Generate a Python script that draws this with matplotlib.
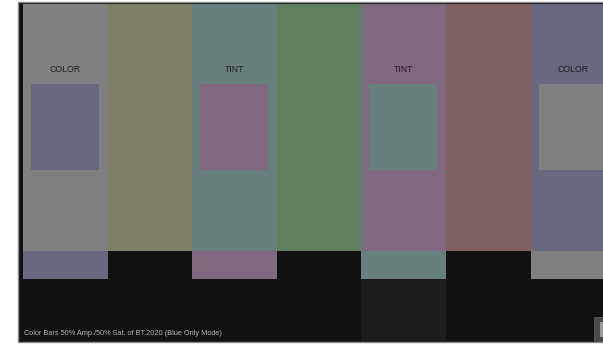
import matplotlib
matplotlib.use("Agg")
import matplotlib.pyplot as plt
from matplotlib.patches import Rectangle

# ---- data ----
bar_colors = ["#808080", "#7f7f69", "#697f7e", "#607f60", "#7f697f", "#7f6161", "#68687f"]
mid_colors = ["#68687f", "#111111", "#7f697f", "#111111", "#697f7e", "#111111", "#808080"]
low_colors = ["#111111", "#111111", "#111111", "#111111", "#1c1c1c", "#111111", "#111111"]
box_bars = [0, 2, 4, 6]
box_colors = ["#68687f", "#7f697f", "#697f7e", "#808080"]
box_labels = ["COLOR", "TINT", "TINT", "COLOR"]
caption = "Color Bars 50% Amp./50% Sat. of BT.2020 (Blue Only Mode)"

# ---- layout (pixel coordinates) ----
W, H = 603, 344
x0, bw = 23.0, 84.6
top_y, mid_y, low_y, end_y = 4, 251, 279, 341

fig = plt.figure(figsize=(W / 100, H / 100), dpi=100)
fig.patch.set_facecolor("white")
ax = fig.add_axes([0, 0, 1, 1])
ax.set_xlim(0, W)
ax.set_ylim(H, 0)
ax.axis("off")

# outer frame
ax.add_patch(Rectangle((17.5, 2.2), 640, 340, facecolor="#111111",
                       edgecolor="#8a8a8a", linewidth=1.0, zorder=0))

lefts = [x0 + i * bw for i in range(len(bar_colors))]
ax.bar(lefts, mid_y - top_y, bottom=top_y, width=bw, align="edge",
       color=bar_colors, linewidth=0, zorder=1)
ax.bar(lefts, low_y - mid_y, bottom=mid_y, width=bw, align="edge",
       color=mid_colors, linewidth=0, zorder=1)
ax.bar(lefts, end_y - low_y, bottom=low_y, width=bw, align="edge",
       color=low_colors, linewidth=0, zorder=1)

# inner boxes and labels
box_l = [lefts[i] + 8 for i in box_bars]
ax.bar(box_l, 86.5, bottom=83.5, width=68, align="edge",
       color=box_colors, linewidth=0, zorder=2)
for i, lab in zip(box_bars, box_labels):
    ax.text(lefts[i] + bw / 2, 69, lab, ha="center", va="center",
            fontsize=6.3, color="#1e1e1e", family="Liberation Sans", zorder=3)

# caption
ax.text(24, 333.5, caption, ha="left", va="center", fontsize=5.3,
        color="#b4b4b4", family="Liberation Sans", zorder=3)

# small corner element
ax.add_patch(Rectangle((594, 317), 20, 24, facecolor="#4a4a4a",
                       edgecolor="#5a5a5a", linewidth=0.6, zorder=3))
ax.add_patch(Rectangle((600, 322), 10, 15, facecolor="#9a9a9a",
                       linewidth=0, zorder=4))

fig.savefig("out.png", dpi=100, facecolor="white")
